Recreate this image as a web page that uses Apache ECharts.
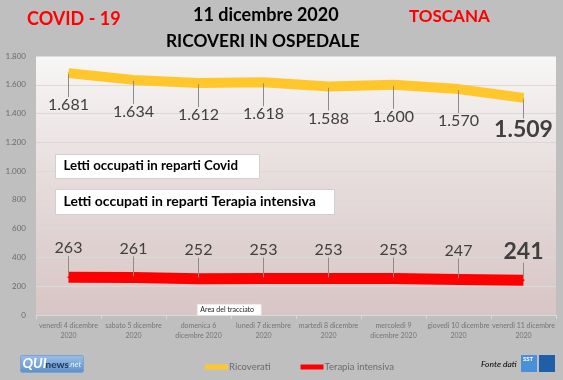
<!DOCTYPE html>
<html><head><meta charset="utf-8">
<script src="https://cdn.jsdelivr.net/npm/echarts@6/dist/echarts.min.js"></script>
<style>html,body{margin:0;padding:0;background:#bfbfbf;}#c{width:563px;height:380px;}</style>
</head><body><div id="c"></div>
<script>
var categories = ["venerdì 4 dicembre\n2020","sabato 5 dicembre\n2020","domenica 6\ndicembre 2020","lunedì 7 dicembre\n2020","martedì 8 dicembre\n2020","mercoledì 9\ndicembre 2020","giovedì 10 dicembre\n2020","venerdì 11 dicembre\n2020"];
var ricoverati = [1681,1634,1612,1618,1588,1600,1570,1509];
var terapiaIntensiva = [263,261,252,253,253,253,247,241];
var yTicks = [0,200,400,600,800,1000,1200,1400,1600,1800];

function fmt(v){ v = Number(v); if (v >= 1000) { return Math.floor(v/1000) + '.' + String(v%1000).padStart(3,'0'); } return String(v); }
var FONT = 'Lato';
function buildData(arr){
  return arr.map(function(v,i){
    var o = {value: v};
    if (i === arr.length-1) o.label = {fontSize: 23, fontWeight: 'bold'};
    return o;
  });
}
var chart = echarts.init(document.getElementById('c'), null, {renderer:'canvas'});
chart.setOption({
  backgroundColor: '#bfbfbf',
  animation: false,
  textStyle: {fontFamily: FONT},
  grid: {left: 36, right: 7, top: 56, bottom: 65, show: true, borderWidth: 0,
    backgroundColor: new echarts.graphic.LinearGradient(0,0,0,1,[{offset:0,color:'#f8f6f6'},{offset:0.5,color:'#e6dbdb'},{offset:1,color:'#d8c5c5'}])},
  xAxis: {type:'category', data: categories, boundaryGap: true,
    axisLine:{show:true,lineStyle:{color:'#d9d9d9'}},
    axisTick:{show:true,length:4,lineStyle:{color:'#d9d9d9'}},
    axisLabel:{interval:0,fontSize:7,color:'#757575',lineHeight:10,margin:6,fontFamily:FONT}},
  yAxis: {type:'value', min: yTicks[0], max: yTicks[yTicks.length-1], interval: 200,
    axisLine:{show:false}, axisTick:{show:false},
    axisLabel:{formatter: fmt, fontSize:8, color:'#6b6b6b', margin:10, fontFamily:FONT},
    splitLine:{lineStyle:{color:'#d9dada',width:1}}},
  legend: {bottom: 3, left: 200, itemWidth: 23, itemHeight: 5, itemGap: 30, icon: 'rect',
    textStyle:{fontSize:9.5,color:'#6b6b6b',fontFamily:FONT,padding:[0,0,0,-4]},
    data:['Ricoverati','Terapia intensiva']},
  series: [
    {name:'Ricoverati', type:'line', data: buildData(ricoverati), symbol:'circle', symbolSize:2,
      itemStyle:{color:'#ffc72c'}, lineStyle:{color:'#ffc72c', width:10},
      label:{show:true, position:'inside', formatter: function(p){return fmt(p.value);}, fontSize:16, color:'#404040', fontFamily:FONT},
      labelLayout:{dy:32}, labelLine:{show:true, lineStyle:{color:'#8c8c8c', width:1}}},
    {name:'Terapia intensiva', type:'line', data: buildData(terapiaIntensiva), symbol:'circle', symbolSize:2,
      itemStyle:{color:'#ff0000'}, lineStyle:{color:'#ff0000', width:11},
      label:{show:true, position:'inside', formatter: function(p){return fmt(p.value);}, fontSize:16, color:'#404040', fontFamily:FONT},
      labelLayout:{dy:-29}, labelLine:{show:true, lineStyle:{color:'#8c8c8c', width:1}}}
  ],
  graphic: [
    {type:'text', z:100, left:27, top:10, style:{text:'COVID - 19', fill:'#ff0000', font:'bold 18px '+FONT}},
    {type:'text', z:100, left:409, top:8, style:{text:'TOSCANA', fill:'#ff0000', font:'bold 17px '+FONT}},
    {type:'text', z:100, left:193, top:6, style:{text:'11 dicembre 2020', fill:'#000', font:'bold 18px '+FONT}},
    {type:'text', z:100, left:166, top:33, style:{text:'RICOVERI IN OSPEDALE', fill:'#000', font:'bold 17.3px '+FONT}},
    {type:'group', z:100, left:55, top:154, children:[
      {type:'rect', z:100, shape:{x:0,y:0,width:204,height:24}, style:{fill:'#fff', stroke:'#d0d0d0', lineWidth:1}},
      {type:'text', z:101, x:8, y:5, style:{text:'Letti occupati in reparti Covid', fill:'#000', font:'bold 13.3px '+FONT}}]},
    {type:'group', z:100, left:55, top:189, children:[
      {type:'rect', z:100, shape:{x:0,y:0,width:279,height:25}, style:{fill:'#fff', stroke:'#d0d0d0', lineWidth:1}},
      {type:'text', z:101, x:8, y:5, style:{text:'Letti occupati in reparti Terapia intensiva', fill:'#000', font:'bold 14px '+FONT}}]},
    {type:'group', z:100, left:197, top:304, children:[
      {type:'rect', z:100, shape:{x:0,y:0,width:64,height:11}, style:{fill:'#fff', stroke:'#e0e0e0', lineWidth:0.5}},
      {type:'text', z:101, x:3, y:1.5, style:{text:'Area del tracciato', fill:'#222', font:'7px '+FONT}}]},
    {type:'group', z:100, left:20, top:355, children:[
      {type:'rect', z:100, shape:{x:0,y:0,width:63,height:17,r:2}, style:{fill: new echarts.graphic.LinearGradient(0,0,0,1,[{offset:0,color:'#9cc0e6'},{offset:1,color:'#5b8fc8'}]), stroke:'#7aa3d3'}},
      {type:'text', z:101, x:2, y:1, style:{text:'QUI', fill:'#fff', font:'bold italic 14px '+FONT}},
      {type:'text', z:101, x:25, y:4, style:{text:'news', fill:'#1d3555', font:'bold 10px '+FONT}},
      {type:'text', z:101, x:48, y:5, style:{text:'.net', fill:'#e8f0fa', font:'italic 8px '+FONT}}]},
    {type:'text', z:100, left:481, top:360, style:{text:'Fonte dati', fill:'#000', font:'italic 8.5px '+FONT}},
    {type:'group', z:100, left:521, top:355, children:[
      {type:'rect', z:100, shape:{x:0,y:0,width:16,height:17}, style:{fill:'#4a90d9'}},
      {type:'text', z:101, x:2, y:1, style:{text:'SST', fill:'#fff', font:'bold 6px '+FONT}},
      {type:'rect', z:100, shape:{x:18,y:0,width:16,height:17}, style:{fill:'#1f5fa8'}}]}
  ]
});
</script></body></html>
